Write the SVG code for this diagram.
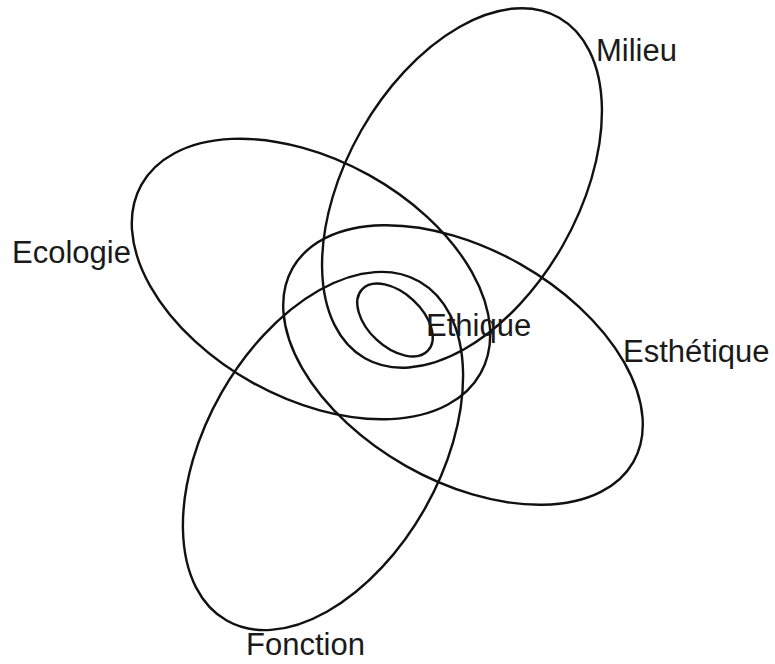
<svg xmlns="http://www.w3.org/2000/svg" width="775" height="664" viewBox="0 0 775 664">
<style>
.shape{fill:none;stroke:#111;stroke-width:2.4}
.lbl{font-family:"Liberation Sans",Arial,sans-serif;font-size:31px;fill:#1a1a1a}
</style>
<rect width="775" height="664" fill="#fff"/>
<g id="milieu">
<ellipse class="shape" cx="462" cy="188" rx="196" ry="116" transform="rotate(-60.3 462 188)"/>
<text class="lbl" x="596" y="61">Milieu</text>
</g>
<g id="ecologie">
<ellipse class="shape" cx="311" cy="279" rx="194" ry="119" transform="rotate(29 311 279)"/>
<text class="lbl" x="12" y="263">Ecologie</text>
</g>
<g id="esthetique">
<ellipse class="shape" cx="463" cy="365" rx="196" ry="116" transform="rotate(29.6 463 365)"/>
<text class="lbl" x="623" y="362">Esthétique</text>
</g>
<g id="fonction">
<ellipse class="shape" cx="323" cy="451" rx="195" ry="117" transform="rotate(-60.4 323 451)"/>
<text class="lbl" x="246" y="655">Fonction</text>
</g>
<g id="ethique">
<ellipse class="shape" cx="395" cy="320" rx="45" ry="27" transform="rotate(43 395 320)"/>
<text class="lbl" x="426" y="336">Ethique</text>
</g>
<g id="connectors"/>
</svg>
